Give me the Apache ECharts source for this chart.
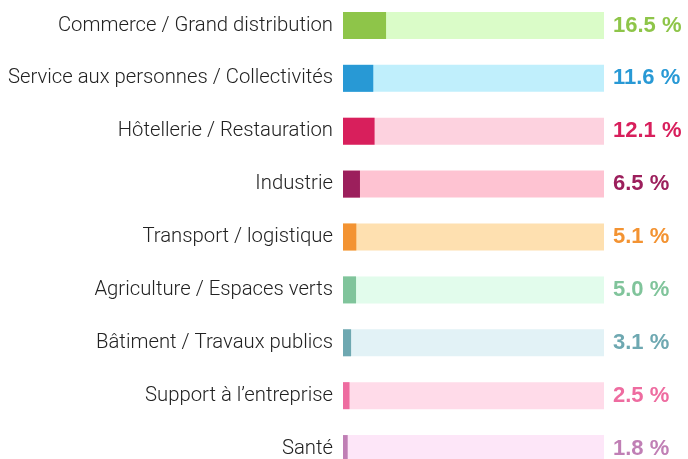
<!DOCTYPE html>
<html>
<head>
<meta charset="utf-8">
<script src="https://cdn.jsdelivr.net/npm/echarts@6/dist/echarts.min.js"></script>
<style>
  html, body { margin: 0; padding: 0; background: #fff; }
  #chart { width: 688px; height: 459px; }
</style>
</head>
<body>
<div id="chart"></div>
<script>
// secteurs
const categories = [
  "Commerce / Grand distribution",
  "Service aux personnes / Collectivités",
  "Hôtellerie / Restauration",
  "Industrie",
  "Transport / logistique",
  "Agriculture / Espaces verts",
  "Bâtiment / Travaux publics",
  "Support à l’entreprise",
  "Santé"
];
const values = [16.5, 11.6, 12.1, 6.5, 5.1, 5.0, 3.1, 2.5, 1.8];
const fullScale = [100, 100, 100, 100, 100, 100, 100, 100, 100];

const barColors = ["#8ec549", "#2899d5", "#d81f5c", "#9c1f5c", "#f39332", "#80c49b", "#6ea8b1", "#ee6ca0", "#c07fb5"];
const bgColors = ["#dafcc8", "#c0effc", "#fdd2df", "#fec3d2", "#fee0b0", "#e2fcec", "#e2f2f6", "#ffdbe9", "#fde6f8"];

const chart = echarts.init(document.getElementById("chart"));

const option = {
  animation: false,
  grid: {
    left: 343,
    right: 84,
    top: -1,
    height: 476,
    outerBoundsMode: "none"
  },
  xAxis: {
    type: "value",
    min: 0,
    max: 100,
    show: false
  },
  yAxis: {
    type: "category",
    inverse: true,
    data: categories,
    axisLine: { show: false },
    axisTick: { show: false },
    axisLabel: {
      margin: 10,
      fontFamily: "Roboto",
      fontWeight: 300,
      fontSize: 20.3,
      color: "#222"
    }
  },
  series: [
    {
      // fond
      type: "bar",
      barWidth: 27,
      silent: true,
      data: fullScale.map((v, i) => ({
        value: v,
        itemStyle: { color: bgColors[i] },
        label: { color: barColors[i] }
      })),
      label: {
        show: true,
        position: "right",
        distance: 9,
        fontFamily: "Liberation Sans",
        fontWeight: "bold",
        fontSize: 22,
        formatter: (p) => values[p.dataIndex].toFixed(1) + " %"
      }
    },
    {
      type: "bar",
      barWidth: 27,
      barGap: "-100%",
      data: values.map((v, i) => ({
        value: v,
        itemStyle: { color: barColors[i] }
      }))
    }
  ]
};

chart.setOption(option);
</script>
</body>
</html>
